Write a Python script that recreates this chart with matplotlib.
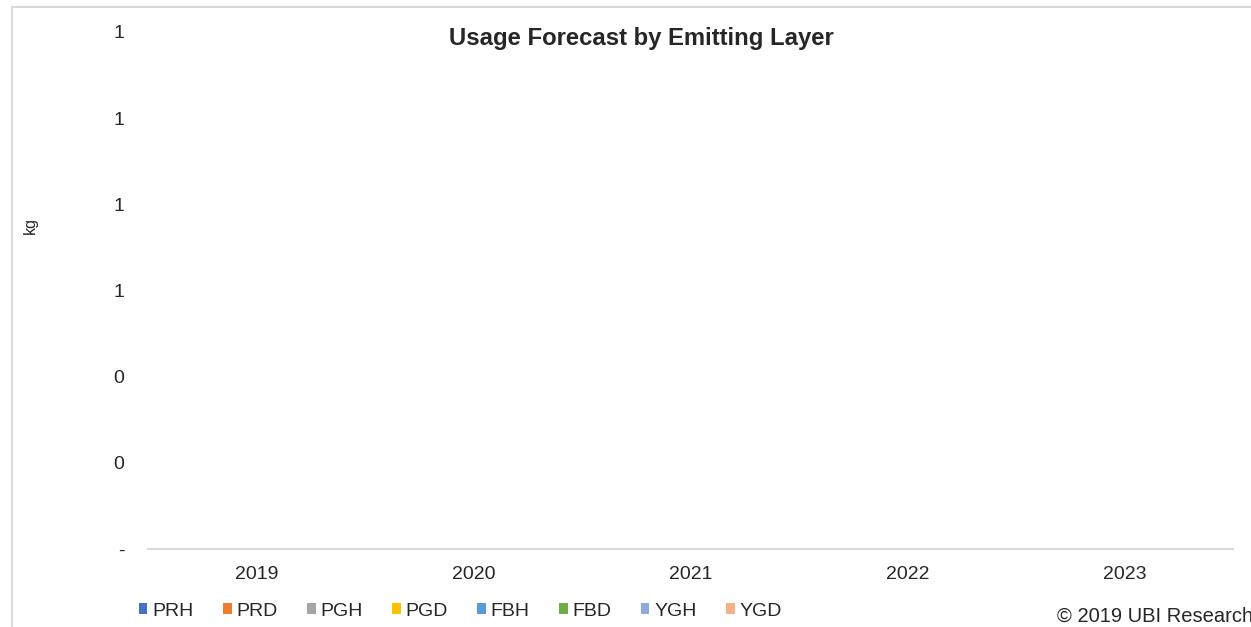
import matplotlib.pyplot as plt
from matplotlib.patches import Patch, Rectangle
from matplotlib.ticker import FuncFormatter

plt.rcParams['font.family'] = ['Liberation Sans', 'DejaVu Sans']

# Define data (all series are zero in the source chart).
years = ['2019', '2020', '2021', '2022', '2023']
series_names = ['PRH', 'PRD', 'PGH', 'PGD', 'FBH', 'FBD', 'YGH', 'YGD']
PRH = [0, 0, 0, 0, 0]
PRD = [0, 0, 0, 0, 0]
PGH = [0, 0, 0, 0, 0]
PGD = [0, 0, 0, 0, 0]
FBH = [0, 0, 0, 0, 0]
FBD = [0, 0, 0, 0, 0]
YGH = [0, 0, 0, 0, 0]
YGD = [0, 0, 0, 0, 0]
series_values = [PRH, PRD, PGH, PGD, FBH, FBD, YGH, YGD]
y_ticks = [0, 0.2, 0.4, 0.6, 0.8, 1.0, 1.2]

colors = ['#4472C4', '#ED7D31', '#A5A5A5', '#FFC000',
          '#5B9BD5', '#70AD47', '#8FAADC', '#F4B183']
text_color = '#262626'
W, H = 1251, 627

fig = plt.figure(figsize=(W / 100, H / 100), dpi=100)

# Chart frame (cut off at right and bottom).
fig.patches.append(Rectangle((12 / W, -0.1), 1.2, 1.1 - 7 / H,
                             transform=fig.transFigure, fill=False,
                             edgecolor='#D9D9D9', linewidth=1.5))

ax = fig.add_axes([148 / W, 1 - 549 / H, (1233 - 148) / W, (549 - 32) / H])

# Make grouped bars.
n = len(series_names)
width = 0.8 / n
x = list(range(len(years)))
for i, (name, vals) in enumerate(zip(series_names, series_values)):
    offs = [xi - 0.4 + width * (i + 0.5) for xi in x]
    ax.bar(offs, vals, width=width, color=colors[i], label=name)

ax.set_xlim(-0.5, len(years) - 0.5)
ax.set_ylim(0, 1.2)
ax.set_xticks(x)
ax.set_xticklabels(years)
ax.set_yticks(y_ticks)
ax.yaxis.set_major_formatter(
    FuncFormatter(lambda v, p: '-' if abs(v) < 1e-9 else f'{v:.0f}'))

for side in ['top', 'right', 'left']:
    ax.spines[side].set_visible(False)
ax.spines['bottom'].set_color('#D9D9D9')
ax.spines['bottom'].set_linewidth(1.5)
ax.tick_params(axis='both', length=0, labelsize=14, labelcolor=text_color)
ax.tick_params(axis='x', pad=12)
ax.tick_params(axis='y', pad=17)

fig.text(30 / W, 1 - 225 / H, 'kg', rotation=90, ha='center', va='center',
         fontsize=11.5, color=text_color)
fig.text(641 / W, 1 - 38 / H, 'Usage Forecast by Emitting Layer',
         ha='center', va='center', fontsize=17.2, fontweight='bold',
         color=text_color)
fig.text(1057 / W, 1 - 616 / H, '© 2019 UBI Research', ha='left',
         va='center', fontsize=14.5, color=text_color)

handles = [Patch(facecolor=c, edgecolor='none') for c in colors]
fig.legend(handles, series_names, loc='center left', ncol=n,
           bbox_to_anchor=(129 / W, 1 - 611 / H), bbox_transform=fig.transFigure,
           frameon=False, borderpad=0, fontsize=14, handlelength=0.45,
           handleheight=0.45, handletextpad=0.25, columnspacing=1.5,
           labelcolor=text_color)

fig.savefig('out.png', dpi=100)
